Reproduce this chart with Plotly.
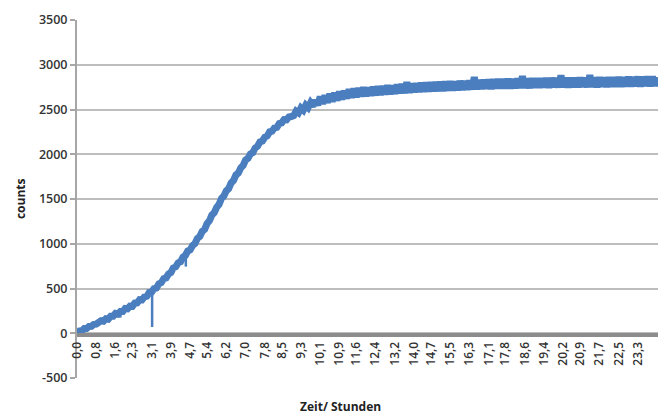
import plotly.graph_objects as go

counts = [
    0, 26, 27, 52, 52, 76, 78, 100, 102, 122,
    140, 135, 162, 157, 191, 191, 222, 215, 242, 242,
    276, 273, 302, 300, 337, 340, 375, 373, 406, 413,
    455, 460, 498, 505, 552, 565, 610, 618, 661, 678,
    730, 742, 786, 799, 851, 869, 919, 932, 980, 1002,
    1060, 1082, 1137, 1161, 1225, 1257, 1321, 1347, 1407, 1440,
    1506, 1533, 1591, 1616, 1679, 1707, 1768, 1791, 1847, 1875,
    1935, 1954, 2003, 2018, 2070, 2090, 2139, 2148, 2190, 2204,
    2250, 2257, 2295, 2300, 2343, 2350, 2387, 2385, 2417, 2421,
    2431, 2482, 2463, 2517, 2492, 2548, 2521, 2575, 2538, 2601,
    2550, 2642, 2565, 2657, 2577, 2674, 2590, 2684, 2603, 2700,
    2613, 2707, 2625, 2724, 2633, 2734, 2640, 2737, 2647, 2747,
    2650, 2742, 2657, 2752, 2660, 2757, 2663, 2762, 2670, 2770,
    2673, 2767, 2677, 2777, 2683, 2782, 2685, 2804, 2690, 2790,
    2695, 2792, 2697, 2797, 2700, 2800, 2703, 2802, 2705, 2807,
    2707, 2808, 2709, 2810, 2713, 2814, 2715, 2812, 2717, 2818,
    2720, 2817, 2723, 2822, 2725, 2862, 2727, 2827, 2730, 2830,
    2733, 2834, 2731, 2837, 2735, 2838, 2737, 2840, 2735, 2842,
    2737, 2840, 2740, 2844, 2741, 2872, 2743, 2846, 2740, 2847,
    2745, 2848, 2743, 2847, 2747, 2850, 2745, 2852, 2749, 2850,
    2747, 2880, 2750, 2852, 2748, 2854, 2751, 2852, 2749, 2856,
    2753, 2854, 2751, 2884, 2753, 2857, 2751, 2858, 2755, 2856,
    2753, 2860, 2757, 2858, 2755, 2862, 2757, 2860, 2760, 2864,
    2757, 2862, 2761, 2866, 2759, 2864, 2763, 2868, 2761, 2866,
    2765, 2862,
]
hours = [round(0.1 * i, 1) for i in range(len(counts))]

# isolated outlier readings (drawn as thin drops from the curve)
spike_hours = [3.12, 3.12, None, 1.8, 1.8, None, 4.52, 4.52]
spike_counts = [473, 70, None, 240, 175, None, 875, 745]

tick_hours = [0.0, 0.8, 1.6, 2.3, 3.1, 3.9, 4.7, 5.4, 6.2, 7.0, 7.8, 8.5, 9.3,
              10.1, 10.9, 11.6, 12.4, 13.2, 14.0, 14.7, 15.5, 16.3, 17.1, 17.8,
              18.6, 19.4, 20.2, 20.9, 21.7, 22.5, 23.3]
tick_labels = [f"{v:.1f}".replace(".", ",") for v in tick_hours]
y_ticks = [-500, 0, 500, 1000, 1500, 2000, 2500, 3000, 3500]
y_labels = [str(v) for v in y_ticks]

blue = "#4A7EBF"
grid = "#BDBDBD"
font_family = "'Open Sans', Lato, sans-serif"

fig = go.Figure()
fig.add_trace(go.Scatter(x=hours, y=counts, mode="lines",
                         line=dict(color=blue, width=7, simplify=False),
                         hoverinfo="skip"))
fig.add_trace(go.Scatter(x=spike_hours, y=spike_counts, mode="lines",
                         line=dict(color=blue, width=2.5), hoverinfo="skip",
                         connectgaps=False))

# the page body adds an 8 px offset, so the figure is 8 px smaller
fig.update_layout(
    width=661, height=406,
    margin=dict(l=69, r=11, t=12, b=36, autoexpand=False),
    paper_bgcolor="white", plot_bgcolor="white",
    showlegend=False,
    font=dict(family=font_family, color="#3a3a3a"),
    xaxis=dict(
        range=[0, 24.13], automargin=False,
        tickmode="array", tickvals=tick_hours, ticktext=tick_labels,
        tickangle=-90, tickfont=dict(size=12, color="#333", weight=600),
        showgrid=False, zeroline=False,
        showline=True, linecolor="#8C8C8C", linewidth=4,
        ticks="", anchor="free", position=0.12,
    ),
    yaxis=dict(
        range=[-500, 3500], automargin=False,
        tickmode="array", tickvals=y_ticks, ticktext=y_labels,
        tickfont=dict(size=12.5, color="#333", weight=600),
        showgrid=True, gridcolor=grid, gridwidth=1.5,
        zeroline=False,
        showline=True, linecolor="#A6A6A6", linewidth=2,
        ticks="outside", ticklen=5, tickcolor="#A6A6A6", tickwidth=1.5,
    ),
    annotations=[
        dict(text="<b>counts</b>", xref="paper", yref="paper",
             x=-0.098, y=0.5, xanchor="center", yanchor="middle",
             textangle=-90, showarrow=False,
             font=dict(size=12, color="#222")),
        dict(text="<b>Zeit/ Stunden</b>", xref="paper", yref="paper",
             x=0.454, y=-0.081, xanchor="center", yanchor="middle",
             showarrow=False, font=dict(size=12, color="#222")),
    ],
)

fig.write_html("out.html")
